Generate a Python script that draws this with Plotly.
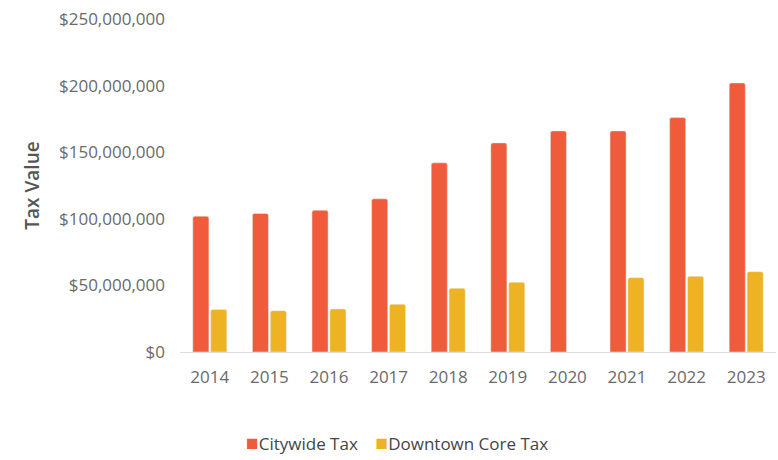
import plotly.graph_objects as go

years = ["2014", "2015", "2016", "2017", "2018", "2019", "2020", "2021", "2022", "2023"]
citywide_tax = [102e6, 104e6, 106.4e6, 115e6, 142e6, 157e6, 166e6, 166e6, 176e6, 202e6]
downtown_core_tax = [32e6, 31e6, 32.3e6, 35.8e6, 47.8e6, 52.3e6, None, 55.8e6, 56.8e6, 60.3e6]

series_names = ["Citywide Tax", "Downtown Core Tax"]
series_colors = ["#F05C3B", "#EEB323"]

FONT = "Open Sans"
TICK_COLOR = "#6a6a6a"

fig = go.Figure()
for name, color, values in zip(series_names, series_colors, [citywide_tax, downtown_core_tax]):
    fig.add_trace(go.Bar(name=name, x=years, y=values,
                         marker=dict(color=color, cornerradius=2)))

# compact legend: coloured square glyph immediately followed by the series name
legend_html = "&nbsp;&nbsp;&nbsp;&nbsp;".join(
    f"<span style='color:{c};font-size:21px'>■</span>{n}"
    for n, c in zip(series_names, series_colors)
)
fig.add_annotation(text=legend_html, xref="paper", yref="paper",
                   x=(397 - 180) / 596, y=-0.318, xanchor="center", yanchor="bottom",
                   showarrow=False, font=dict(family=FONT, size=17, color="#454545"))

fig.update_layout(
    width=778, height=460,
    margin=dict(l=180, r=2, t=19, b=108),
    paper_bgcolor="white", plot_bgcolor="white",
    barmode="group", bargap=0.4, bargroupgap=0.1,
    font=dict(family=FONT, color=TICK_COLOR, size=17),
    showlegend=False,
)
fig.update_xaxes(showline=True, linecolor="#dddddd", linewidth=1,
                 showgrid=False, ticks="", ticklabelstandoff=10,
                 tickfont=dict(size=17, color=TICK_COLOR))
fig.update_yaxes(range=[0, 250e6], dtick=50e6, tickprefix="$", tickformat=",.0f",
                 showgrid=False, zeroline=False, ticklabelstandoff=14,
                 tickfont=dict(size=17, color=TICK_COLOR),
                 title=dict(text="Tax Value", standoff=14,
                            font=dict(size=19, color="#555555", weight=600)))

fig.write_html("out.html")
